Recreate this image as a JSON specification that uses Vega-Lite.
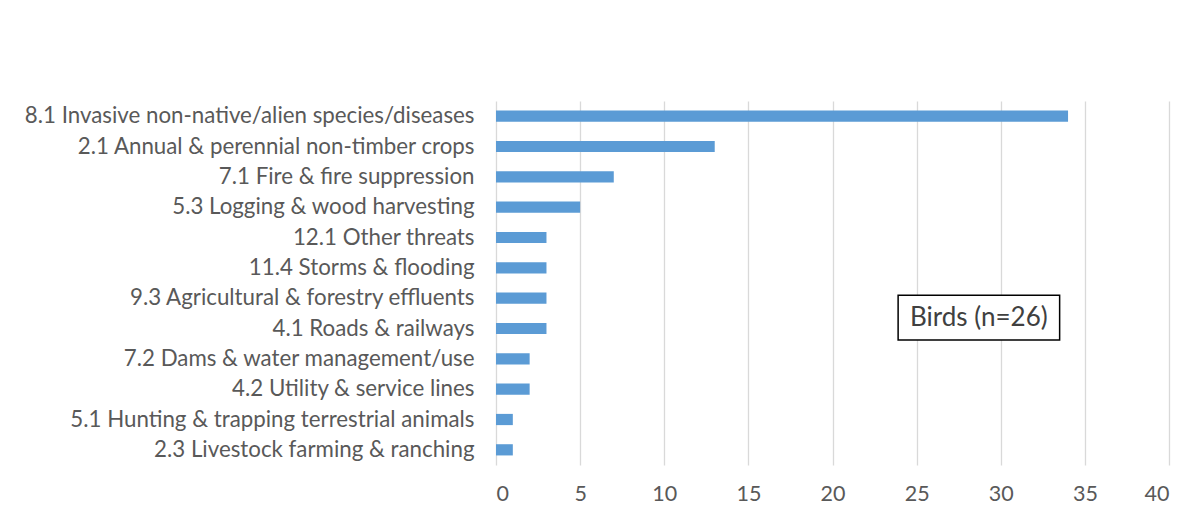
{
  "$schema": "https://vega.github.io/schema/vega-lite/v6.json",
  "autosize": "none",
  "width": 673,
  "height": 364,
  "padding": {"left": 496, "top": 101, "right": 33, "bottom": 55},
  "background": "white",
  "config": {
    "view": {"stroke": null},
    "font": "Lato"
  },
  "datasets": {
    "threats": [
      {"threat": "8.1 Invasive non-native/alien species/diseases", "count": 34},
      {"threat": "2.1 Annual & perennial non-timber crops", "count": 13},
      {"threat": "7.1 Fire & fire suppression", "count": 7},
      {"threat": "5.3 Logging & wood harvesting", "count": 5},
      {"threat": "12.1 Other threats", "count": 3},
      {"threat": "11.4 Storms & flooding", "count": 3},
      {"threat": "9.3 Agricultural & forestry effluents", "count": 3},
      {"threat": "4.1 Roads & railways", "count": 3},
      {"threat": "7.2 Dams & water management/use", "count": 2},
      {"threat": "4.2 Utility & service lines", "count": 2},
      {"threat": "5.1 Hunting & trapping terrestrial animals", "count": 1},
      {"threat": "2.3 Livestock farming & ranching", "count": 1}
    ],
    "note": [
      {"label": "Birds (n=26)", "x1": 23.9, "x2": 33.5, "y1": 4.12, "y2": 5.6, "xm": 28.7, "ym": 4.86}
    ]
  },
  "layer": [
    {
      "data": {"name": "threats"},
      "mark": {"type": "bar", "color": "#5B9BD5"},
      "encoding": {
        "y": {
          "field": "threat",
          "type": "nominal",
          "sort": null,
          "scale": {"paddingInner": 0.63, "paddingOuter": 0.315},
          "axis": {
            "title": null,
            "domain": false,
            "ticks": false,
            "labelFontSize": 22.3,
            "labelColor": "#595959",
            "labelPadding": 22,
            "labelLimit": 600
          }
        },
        "x": {
          "field": "count",
          "type": "quantitative",
          "scale": {"domain": [0, 40], "nice": false},
          "axis": {
            "title": null,
            "values": [0, 5, 10, 15, 20, 25, 30, 35, 40],
            "orient": "bottom",
            "domain": false,
            "ticks": false,
            "grid": true,
            "gridColor": "#D9D9D9",
            "gridWidth": 1.3,
            "labelFontSize": 21.5,
            "labelColor": "#595959",
            "labelPadding": 18
          }
        }
      }
    },
    {
      "data": {"name": "note"},
      "mark": {"type": "rect", "fill": "white", "stroke": "black", "strokeWidth": 1.5},
      "encoding": {
        "x": {"field": "x1", "type": "quantitative"},
        "x2": {"field": "x2"},
        "y": {"field": "y1", "type": "quantitative", "scale": {"domain": [0, 12], "nice": false}, "axis": null},
        "y2": {"field": "y2"}
      }
    },
    {
      "data": {"name": "note"},
      "mark": {"type": "text", "fontSize": 26, "color": "#404040", "align": "center", "baseline": "middle"},
      "encoding": {
        "x": {"field": "xm", "type": "quantitative"},
        "y": {"field": "ym", "type": "quantitative", "scale": {"domain": [0, 12], "nice": false}, "axis": null},
        "text": {"field": "label"}
      }
    }
  ],
  "resolve": {"scale": {"y": "independent"}}
}
